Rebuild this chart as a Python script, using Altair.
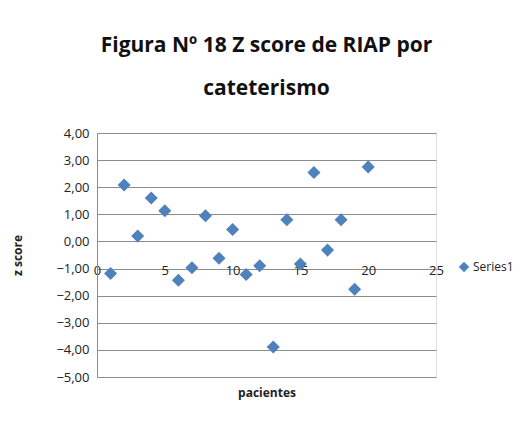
import altair as alt
import pandas as pd

pacientes = list(range(1, 21))
z_score = [-1.18, 2.08, 0.20, 1.60, 1.13, -1.43, -0.97, 0.95, -0.62, 0.44,
           -1.22, -0.90, -3.89, 0.80, -0.83, 2.54, -0.32, 0.80, -1.76, 2.75]
series = ["Series1"] * 20

df = pd.DataFrame({"pacientes": pacientes, "z": z_score, "serie": series})

FONT = "Open Sans"

chart = alt.Chart(df).mark_point(shape="diamond", filled=True, opacity=1, size=170).encode(
    x=alt.X("pacientes:Q",
            scale=alt.Scale(domain=[0, 25], nice=False, zero=False),
            axis=alt.Axis(values=[0, 5, 10, 15, 20, 25], grid=False, domain=False, ticks=False,
                          offset=-113, labelPadding=0, labelFlush=False,
                          labelFontSize=13, labelColor="#222222", labelFont=FONT,
                          title="pacientes", titleFont=FONT, titleFontSize=12,
                          titleFontWeight="bold", titleColor="#222222",
                          titleY=128, titleBaseline="middle")),
    y=alt.Y("z:Q",
            scale=alt.Scale(domain=[-5, 4], nice=False),
            axis=alt.Axis(values=[4, 3, 2, 1, 0, -1, -2, -3, -4, -5],
                          labelExpr="replace(format(datum.value, '.2f'), '.', ',')",
                          grid=True, gridColor="#8c8c8c", gridWidth=1,
                          domain=True, domainColor="#8c8c8c", ticks=False,
                          labelPadding=8, labelFontSize=13, labelColor="#222222",
                          labelFont=FONT,
                          title="z score", titleFont=FONT, titleFontSize=12,
                          titleFontWeight="bold", titleColor="#222222",
                          titleX=-80, titleY=122, titleBaseline="middle",
                          titleAlign="center", titleAngle=-90)),
    color=alt.Color("serie:N", scale=alt.Scale(range=["#4F81BD"]),
                    legend=alt.Legend(title=None, orient="none", legendX=361, legendY=128,
                                      labelFont=FONT, labelFontSize=12, labelOffset=3,
                                      labelColor="#222222", symbolSize=110,
                                      symbolType="diamond", padding=0)),
).properties(
    width=339, height=244,
    title=alt.TitleParams(["Figura Nº 18 Z score de RIAP por", "cateterismo"],
                          font=FONT, fontSize=21, fontWeight="bold", color="#111111",
                          anchor="middle", lineHeight=43, offset=28),
    padding={"left": 89, "top": 125, "right": 85, "bottom": 37},
    autosize=alt.AutoSizeParams(type="none"),
).configure_view(stroke=None).configure(background="white")

chart.save("out.html", embed_options={"renderer": "svg", "actions": False})
